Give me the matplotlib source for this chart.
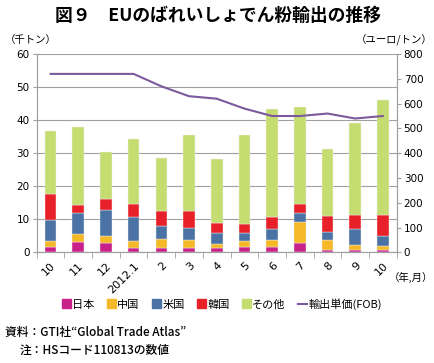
import matplotlib
matplotlib.use("Agg")
import matplotlib.pyplot as plt
from matplotlib.patches import Patch
from matplotlib.lines import Line2D
import numpy as np

plt.rcParams['font.family'] = ['Noto Sans CJK JP', 'DejaVu Sans']

months = ["10", "11", "12", "2012.1", "2", "3", "4", "5", "6", "7", "8", "9", "10"]
# stacked values (千トン)
japan = [1.6, 3.0, 2.8, 1.4, 1.4, 1.4, 1.4, 1.5, 1.6, 2.8, 0.6, 0.6, 0.8]
china = [1.8, 2.6, 2.2, 1.9, 2.6, 2.2, 1.2, 1.9, 2.1, 6.4, 3.0, 1.6, 1.0]
usa = [6.4, 6.2, 7.8, 7.4, 4.0, 3.8, 3.2, 2.4, 3.2, 2.6, 2.6, 4.9, 3.0]
korea = [7.9, 2.5, 3.3, 3.9, 4.5, 5.1, 3.2, 2.8, 3.8, 2.9, 4.7, 4.1, 6.5]
others = [19.1, 23.6, 14.3, 19.7, 16.0, 22.9, 19.3, 26.8, 32.7, 29.4, 20.3, 28.0, 34.9]
# 輸出単価 (ユーロ/トン)
price = [720, 720, 720, 720, 670, 630, 620, 580, 550, 550, 560, 540, 550]

c_jp = "#C8228A"
c_cn = "#F5B928"
c_us = "#4A72A5"
c_kr = "#E8202A"
c_ot = "#C5DC70"
c_line = "#7B5A9E"
grid_c = "#A0A0A0"

fig = plt.figure(figsize=(4.35, 3.63), dpi=100)
ax = fig.add_axes([0.0844, 0.305, 0.8276, 0.546])

x = np.arange(len(months))
w = 0.42
bottom = np.zeros(len(months))
for vals, col in [(japan, c_jp), (china, c_cn), (usa, c_us), (korea, c_kr), (others, c_ot)]:
    ax.bar(x, vals, w, bottom=bottom, color=col, edgecolor="#f0f0f0", linewidth=0.3, zorder=3)
    bottom += np.array(vals)

ax.set_xlim(-0.5, len(months) - 0.5)
ax.set_ylim(0, 60)
ax.set_yticks(range(0, 61, 10))
ax.yaxis.grid(True, color=grid_c, linewidth=0.8, zorder=0)
ax.set_axisbelow(True)
ax.set_xticks(x)
ax.set_xticklabels(months, rotation=45, ha='right', rotation_mode='anchor', fontsize=8,
                   family='DejaVu Sans')
ax.set_xticks(np.arange(-0.5, len(months), 1), minor=True)
ax.tick_params(axis='x', which='major', length=0, pad=6)
ax.tick_params(axis='x', which='minor', length=4, color=grid_c, direction='out')
ax.tick_params(axis='y', labelsize=7.5, length=3, color=grid_c, pad=2)
for lb in ax.get_yticklabels():
    lb.set_family('DejaVu Sans')
for s in ax.spines.values():
    s.set_color(grid_c)
ax.spines['top'].set_visible(False)

ax2 = ax.twinx()
ax2.plot(x, price, color=c_line, linewidth=1.5, zorder=5)
ax2.set_ylim(0, 800)
ax2.set_yticks(range(0, 801, 100))
ax2.tick_params(axis='y', labelsize=7.5, length=3, color=grid_c, pad=2)
for lb in ax2.get_yticklabels():
    lb.set_family('DejaVu Sans')
for s in ax2.spines.values():
    s.set_color(grid_c)
ax2.spines['top'].set_visible(False)

fig.text(0.5, 0.955, "図９　EUのばれいしょでん粉輸出の推移", ha='center', va='center',
         fontsize=12.8, fontweight='bold')
fig.text(0.012, 0.89, "（千トン）", fontsize=7.5, va='center')
fig.text(0.995, 0.89, "（ユーロ/トン）", fontsize=7.5, va='center', ha='right')
fig.text(0.995, 0.235, "（年,月）", fontsize=7.5, va='center', ha='right')

handles = [Patch(color=c_jp, label="日本"), Patch(color=c_cn, label="中国"),
           Patch(color=c_us, label="米国"), Patch(color=c_kr, label="韓国"),
           Patch(color=c_ot, label="その他"),
           Line2D([0], [0], color=c_line, linewidth=1.5, label="輸出単価(FOB)")]
fig.legend(handles=handles, loc='center', bbox_to_anchor=(0.51, 0.163), ncol=6,
           frameon=False, fontsize=8, handlelength=0.8, handleheight=0.8,
           handletextpad=0.15, columnspacing=1.1)

fig.text(0.012, 0.085, "資料：GTI社“Global Trade Atlas”", fontsize=8.5, va='center',
         fontweight='medium')
fig.text(0.045, 0.035, "注：HSコード110813の数値", fontsize=8.5, va='center',
         fontweight='medium')

fig.savefig("out.png", dpi=100)
